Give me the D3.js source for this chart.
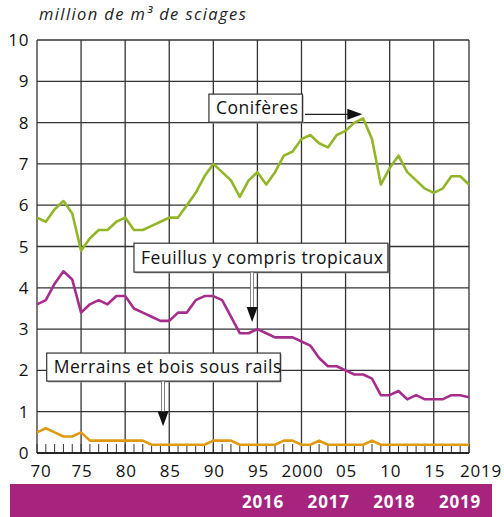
<!DOCTYPE html>
<html>
<head>
<meta charset="utf-8">
<script src="https://cdn.jsdelivr.net/npm/d3@7"></script>
<style>
  body { margin: 0; background: #fff; }
  text { font-family: "Open Sans", "Noto Sans", sans-serif; }
</style>
</head>
<body>
<div id="chart"></div>
<script>
// Years 1970 -> 2019
const years = d3.range(1970, 2020);

const coniferes = [
  5.7, 5.6, 5.9, 6.1, 5.8, 4.9, 5.2, 5.4, 5.4, 5.6,
  5.7, 5.4, 5.4, 5.5, 5.6, 5.7, 5.7, 6.0, 6.3, 6.7,
  7.0, 6.8, 6.6, 6.2, 6.6, 6.8, 6.5, 6.8, 7.2, 7.3,
  7.6, 7.7, 7.5, 7.4, 7.7, 7.8, 8.0, 8.1, 7.6, 6.5,
  6.9, 7.2, 6.8, 6.6, 6.4, 6.3, 6.4, 6.7, 6.7, 6.5
];

const feuillus = [
  3.6, 3.7, 4.1, 4.4, 4.2, 3.4, 3.6, 3.7, 3.6, 3.8,
  3.8, 3.5, 3.4, 3.3, 3.2, 3.2, 3.4, 3.4, 3.7, 3.8,
  3.8, 3.7, 3.3, 2.9, 2.9, 3.0, 2.9, 2.8, 2.8, 2.8,
  2.7, 2.6, 2.3, 2.1, 2.1, 2.0, 1.9, 1.9, 1.8, 1.4,
  1.4, 1.5, 1.3, 1.4, 1.3, 1.3, 1.3, 1.4, 1.4, 1.35
];

const merrains = [
  0.5, 0.6, 0.5, 0.4, 0.4, 0.5, 0.3, 0.3, 0.3, 0.3,
  0.3, 0.3, 0.3, 0.2, 0.2, 0.2, 0.2, 0.2, 0.2, 0.2,
  0.3, 0.3, 0.3, 0.2, 0.2, 0.2, 0.2, 0.2, 0.3, 0.3,
  0.2, 0.2, 0.3, 0.2, 0.2, 0.2, 0.2, 0.2, 0.3, 0.2,
  0.2, 0.2, 0.2, 0.2, 0.2, 0.2, 0.2, 0.2, 0.2, 0.2
];

const xTicks = [1970, 1975, 1980, 1985, 1990, 1995, 2000, 2005, 2010, 2015, 2019];
const xTickLabels = ["70", "75", "80", "85", "90", "95", "2000", "05", "10", "15", "2019"];
const yTicks = d3.range(0, 11);
const editions = ["2016", "2017", "2018", "2019"];

const series = [
  { name: "Conifères", values: coniferes, color: "#93b528" },
  { name: "Feuillus y compris tropicaux", values: feuillus, color: "#a62d8c" },
  { name: "Merrains et bois sous rails", values: merrains, color: "#df9a12" }
];

// annotation boxes, in data units: [x0, x1] years, [top, bottom] values
const notes = [
  { text: "Conifères", x0: 1989.5, x1: 2000.1, top: 8.69, bottom: 8.01,
    arrow: "right", ax0: 2000.4, ax1: 2006.9, ay: 8.2 },
  { text: "Feuillus y compris tropicaux", x0: 1981.0, x1: 2009.8, top: 5.08, bottom: 4.38,
    arrow: "down", ax: 1994.4, ay1: 3.17 },
  { text: "Merrains et bois sous rails", x0: 1971.1, x1: 1997.6, top: 2.42, bottom: 1.74,
    arrow: "down", ax: 1984.3, ay1: 0.65 }
];

const width = 504, height = 517;
const svg = d3.select("#chart").append("svg")
  .attr("width", width).attr("height", height);

const x = d3.scaleLinear().domain([1970, 2019]).range([37, 469]);
const y = d3.scaleLinear().domain([0, 10]).range([453, 40]);

// Title
svg.append("text")
  .attr("x", 39).attr("y", 20)
  .style("font-style", "italic")
  .style("font-size", "16.5px")
  .style("letter-spacing", "1.4px")
  .attr("fill", "#222")
  .text("million de m³ de sciages");

// Grid
const grid = svg.append("g");
grid.selectAll("line.h").data(yTicks).join("line")
  .attr("class", "h")
  .attr("x1", x(1970)).attr("x2", x(2019))
  .attr("y1", d => y(d)).attr("y2", d => y(d))
  .attr("stroke", "#333").attr("stroke-width", 1.3);
grid.selectAll("line.v").data(xTicks).join("line")
  .attr("class", "v")
  .attr("x1", d => x(d)).attr("x2", d => x(d))
  .attr("y1", y(10)).attr("y2", y(0))
  .attr("stroke", "#333").attr("stroke-width", 1.3);

// yearly minor ticks
grid.selectAll("line.minor").data(years).join("line")
  .attr("class", "minor")
  .attr("x1", d => x(d)).attr("x2", d => x(d))
  .attr("y1", y(0) - 9).attr("y2", y(0))
  .attr("stroke", "#333").attr("stroke-width", 1);

// base axis line
svg.append("line")
  .attr("x1", x(1970)).attr("x2", x(2019))
  .attr("y1", y(0)).attr("y2", y(0))
  .attr("stroke", "#111").attr("stroke-width", 1.6);

// Y labels
svg.selectAll("text.ylab").data(yTicks).join("text")
  .attr("class", "ylab")
  .attr("x", 29).attr("y", d => y(d) + 6)
  .attr("text-anchor", "end")
  .style("font-size", "17px")
  .style("letter-spacing", "0.6px")
  .attr("fill", "#111")
  .text(d => d);

// X labels
svg.selectAll("text.xlab").data(xTicks).join("text")
  .attr("class", "xlab")
  .attr("x", (d, i) => x(d) + (d === 2019 ? 12 : d === 1970 ? 4 : 1))
  .attr("y", 477)
  .attr("text-anchor", "middle")
  .style("font-size", "17px")
  .style("letter-spacing", "0.8px")
  .attr("fill", "#111")
  .text((d, i) => xTickLabels[i]);

// Lines
const line = d3.line()
  .x((d, i) => x(years[i]))
  .y(d => y(d));
svg.selectAll("path.series").data(series).join("path")
  .attr("class", "series")
  .attr("d", d => line(d.values))
  .attr("fill", "none")
  .attr("stroke", d => d.color)
  .attr("stroke-width", 2.6)
  .attr("stroke-linejoin", "round");

// Annotations
const noteG = svg.selectAll("g.note").data(notes).join("g").attr("class", "note");
noteG.append("rect")
  .attr("x", d => x(d.x0) + 1.2).attr("y", d => y(d.top) + 1.2)
  .attr("width", d => x(d.x1) - x(d.x0)).attr("height", d => y(d.bottom) - y(d.top))
  .attr("fill", "#999");
noteG.append("rect")
  .attr("x", d => x(d.x0)).attr("y", d => y(d.top))
  .attr("width", d => x(d.x1) - x(d.x0)).attr("height", d => y(d.bottom) - y(d.top))
  .attr("fill", "#fff").attr("stroke", "#333").attr("stroke-width", 1.2);
noteG.append("text")
  .attr("x", d => x(d.x0) + 7)
  .attr("y", d => y(d.bottom) - 8)
  .style("font-size", "17.5px")
  .style("letter-spacing", "0.55px")
  .attr("fill", "#111")
  .text(d => d.text);

// right arrow
noteG.filter(d => d.arrow === "right").each(function (d) {
  const g = d3.select(this);
  const tip = x(d.ax1), yy = y(d.ay);
  g.append("line")
    .attr("x1", x(d.ax0)).attr("x2", tip - 12)
    .attr("y1", yy).attr("y2", yy)
    .attr("stroke", "#222").attr("stroke-width", 1.2);
  g.append("path")
    .attr("d", `M${tip},${yy} L${tip - 15},${yy - 5.5} L${tip - 15},${yy + 5.5} Z`)
    .attr("fill", "#111");
});

// down arrows
noteG.filter(d => d.arrow === "down").each(function (d) {
  const g = d3.select(this);
  const xx = x(d.ax), tip = y(d.ay1), top = y(d.bottom);
  g.append("rect")
    .attr("x", xx - 1.5).attr("y", top)
    .attr("width", 3).attr("height", tip - 14 - top)
    .attr("fill", "#fff").attr("stroke", "#666").attr("stroke-width", 0.8);
  g.append("path")
    .attr("d", `M${xx},${tip} L${xx - 5.5},${tip - 15} L${xx + 5.5},${tip - 15} Z`)
    .attr("fill", "#111");
});

// Bottom band
svg.append("rect")
  .attr("x", 10).attr("y", 484)
  .attr("width", 482).attr("height", 33)
  .attr("fill", "#a6237e");
const band = d3.scalePoint().domain(editions).range([263, 460]);
svg.selectAll("text.ed").data(editions).join("text")
  .attr("class", "ed")
  .attr("x", d => band(d)).attr("y", 508)
  .attr("text-anchor", "middle")
  .style("font-size", "17px")
  .style("font-weight", "bold")
  .style("letter-spacing", "0.8px")
  .attr("fill", "#fff")
  .text(d => d);
</script>
</body>
</html>
